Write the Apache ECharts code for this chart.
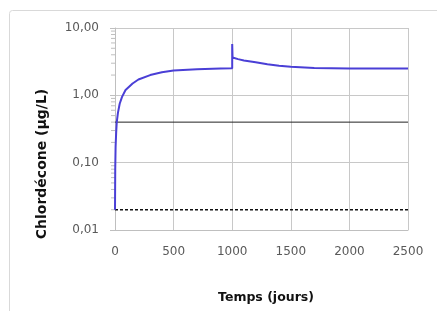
<!DOCTYPE html>
<html>
<head>
<meta charset="utf-8">
<script src="https://cdn.jsdelivr.net/npm/echarts@6/dist/echarts.min.js"></script>
<style>
  html, body { margin: 0; padding: 0; background: #fff; }
  #chart { width: 437px; height: 311px; }
</style>
</head>
<body>
<div id="chart"></div>
<script>
// jours et concentration (µg/L)
const jours = [0, 2, 5, 10, 15, 25, 40, 60, 90, 150, 200, 300, 400, 500, 700, 900, 1000,
  1000, 1003, 1050, 1100, 1200, 1300, 1400, 1500, 1700, 2000, 2500];
const concentration = [0.02, 0.08, 0.17, 0.28, 0.4, 0.55, 0.75, 0.95, 1.2, 1.5, 1.72, 2.0, 2.2, 2.33, 2.45, 2.5, 2.52,
  5.8, 3.65, 3.45, 3.3, 3.1, 2.9, 2.75, 2.65, 2.55, 2.5, 2.5];
const seuilHaut = 0.4;
const seuilBas = 0.02;
const xMax = 2500;

// petites graduations du log (2..9 de chaque décade)
const decades = [0.01, 0.1, 1];
const minorTicks = [];
decades.forEach(d => { for (let k = 2; k <= 9; k++) minorTicks.push(d * k); });

const police = 'DejaVu Sans';
const chart = echarts.init(document.getElementById('chart'));

const option = {
  animation: false,
  textStyle: { fontFamily: police },
  graphic: [
    {
      type: 'rect',
      shape: { x: 9.5, y: 10.5, width: 460, height: 340, r: 3 },
      style: { fill: 'none', stroke: '#d9d9d9', lineWidth: 1 }
    },
    {
      type: 'text',
      x: 42, y: 164,
      rotation: Math.PI / 2,
      style: {
        text: 'Chlordécone (µg/L)',
        fontFamily: police, fontSize: 14, fontWeight: 'bold', fill: '#111',
        align: 'center', verticalAlign: 'middle'
      }
    },
    {
      type: 'text',
      x: 266, y: 298,
      style: {
        text: 'Temps (jours)',
        fontFamily: police, fontSize: 12.5, fontWeight: 'bold', fill: '#111',
        align: 'center', verticalAlign: 'middle'
      }
    }
  ],
  grid: { left: 115, top: 28, right: 29, bottom: 81 },
  xAxis: {
    type: 'value',
    min: 0, max: xMax, interval: 500,
    axisLine: { show: true, lineStyle: { color: '#bfbfbf' } },
    axisTick: { show: false },
    axisLabel: { color: '#595959', fontSize: 12, margin: 16, formatter: v => String(v) },
    splitLine: { show: true, lineStyle: { color: '#c8c8c8' } }
  },
  yAxis: {
    type: 'log',
    logBase: 10,
    min: 0.01, max: 10,
    axisLine: { show: true, lineStyle: { color: '#bfbfbf' } },
    axisTick: { show: true, length: 5, lineStyle: { color: '#bfbfbf' } },
    axisLabel: {
      color: '#595959', fontSize: 12, margin: 16,
      formatter: v => v.toFixed(2).replace('.', ',')
    },
    splitLine: { show: true, lineStyle: { color: '#c8c8c8' } }
  },
  series: [
    {
      type: 'custom',
      data: minorTicks.map(v => [0, v]),
      silent: true,
      renderItem: (params, api) => {
        const p = api.coord([api.value(0), api.value(1)]);
        return {
          type: 'line',
          shape: { x1: p[0] - 4, y1: p[1], x2: p[0], y2: p[1] },
          style: { stroke: '#bfbfbf', lineWidth: 1 }
        };
      },
      clip: false
    },
    {
      type: 'line',
      data: [[0, seuilHaut], [xMax, seuilHaut]],
      symbol: 'none',
      lineStyle: { color: '#222', width: 1 }
    },
    {
      type: 'line',
      data: [[0, seuilBas], [xMax, seuilBas]],
      symbol: 'none',
      lineStyle: { color: '#111', width: 1.5, type: [3, 2] }
    },
    {
      type: 'line',
      data: jours.map((d, i) => [d, concentration[i]]),
      symbol: 'none',
      lineStyle: { color: '#4a3fd6', width: 2 }
    }
  ]
};

chart.setOption(option);
</script>
</body>
</html>
